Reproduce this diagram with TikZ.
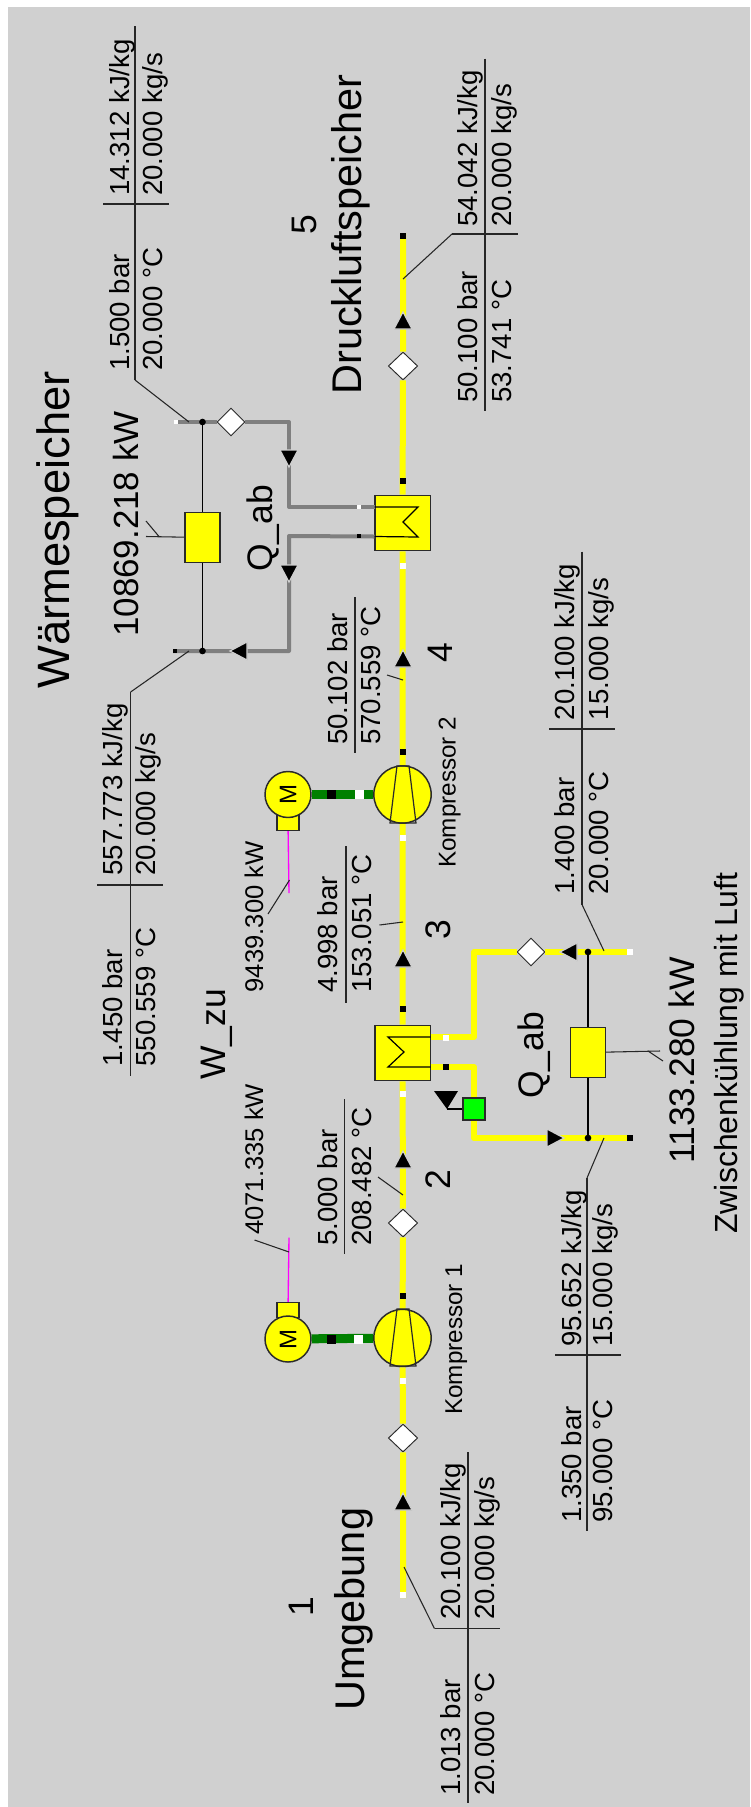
\documentclass[tikz,border=0pt]{standalone}
\usepackage{fontspec}
\setmainfont{Liberation Sans}
\usetikzlibrary{shapes.geometric}
\definecolor{bgc}{HTML}{D0D0D0}
\definecolor{edge}{HTML}{2A2A2A}
\definecolor{pipeg}{HTML}{7F7F7F}
\definecolor{shaftg}{HTML}{008000}
\definecolor{ylw}{HTML}{FFFF00}
\definecolor{mgt}{HTML}{FF00FF}
\definecolor{grn}{HTML}{00FF00}
\newcommand\pxf[1]{\fontsize{#1}{#1}\selectfont}
\tikzset{
  val/.style={rotate=90,anchor=base west,inner sep=0pt,font=\pxf{20.7}},
  kw/.style={rotate=90,anchor=base west,inner sep=0pt,font=\pxf{19.2}},
  comp/.style={rotate=90,anchor=base west,inner sep=0pt,font=\pxf{18.2}},
  big/.style={rotate=90,anchor=base west,inner sep=0pt,font=\pxf{31.1}},
  mid/.style={rotate=90,anchor=base west,inner sep=0pt,font=\pxf{26.6}},
  ypipe/.style={draw=ylw,line width=4.5pt},
  gpipe/.style={draw=pipeg,line width=3pt},
  thin line/.style={draw=black!85,line width=0.8pt},
  sig/.style={draw=black,line width=1pt},
  mag/.style={draw=mgt,line width=1pt},
  shaft/.style={draw=shaftg,line width=6.75pt},
  equip/.style={draw=edge,fill=ylw,line width=1.1pt,inner sep=0pt},
  hx/.style={equip,rectangle,minimum width=41.6pt,minimum height=41.6pt},
  ht/.style={equip,rectangle,minimum width=26pt,minimum height=37.5pt},
  cp/.style={equip,circle,minimum size=43pt},
  mot/.style={equip,circle,minimum size=34.5pt,rotate=90,font=\pxf{18}},
  motb/.style={equip,rectangle,minimum width=16.5pt,minimum height=11pt},
  val dia/.style={diamond,draw=edge,fill=white,line width=0.7pt,inner sep=0pt,aspect=1,minimum width=22pt,minimum height=21pt},
  pb/.style={rectangle,fill=black,inner sep=0pt,minimum size=4.5pt},
  pw/.style={rectangle,fill=white,inner sep=0pt,minimum size=4.5pt},
  pbs/.style={rectangle,fill=black,inner sep=0pt,minimum size=3.2pt},
  pws/.style={rectangle,fill=white,inner sep=0pt,minimum size=3.2pt},
  sb/.style={rectangle,fill=black,inner sep=0pt,minimum width=6.75pt,minimum height=6.75pt},
  sw/.style={rectangle,fill=white,inner sep=0pt,minimum width=6.75pt,minimum height=6.75pt},
  dot/.style={circle,fill=black,inner sep=0pt,minimum size=5pt},
  tip/.style={fill=black,draw=bgc,line width=0.9pt},
}
\newcommand\arU[2]{\path[tip] (#1,#2-1)--(#1-9,#2+16)--(#1+9,#2+16)--cycle;}
\newcommand\arD[2]{\path[tip] (#1,#2+1)--(#1-9,#2-16)--(#1+9,#2-16)--cycle;}
\newcommand\arL[2]{\path[tip] (#1-1,#2)--(#1+16,#2-9)--(#1+16,#2+9)--cycle;}
\newcommand\arR[2]{\path[tip] (#1+1,#2)--(#1-16,#2-9)--(#1-16,#2+9)--cycle;}
% name, vx, ytop, ybot, hy, hx1, hx2
\newcommand\crosstab[7]{%
  \coordinate (#1vt) at (#2,#3);\coordinate (#1vb) at (#2,#4);
  \coordinate (#1hl) at (#6,#5);\coordinate (#1hr) at (#7,#5);
  \draw[thin line] (#1vt)--(#1vb);\draw[thin line] (#1hl)--(#1hr);}
\begin{document}
\begin{tikzpicture}[x=0.75pt,y=-0.75pt]
\useasboundingbox (0,0) rectangle (750,1807);
\fill[white] (0,0) rectangle (750,1807);
\fill[bgc] (8,7) rectangle (750,1807);

% ---- equipment
\node[hx] (hx1) at (402.5,523) {};
\node[hx] (hx2) at (402.5,1053) {};
\node[cp] (c2) at (402.5,794.5) {};
\node[cp] (c1) at (402.5,1338) {};
\node[val dia] (d5) at (403,366) {};
\node[val dia] (d2) at (403,1223) {};
\node[val dia] (d1) at (403,1438) {};
\node[val dia,minimum width=21pt] (dg) at (231,422) {};
\node[val dia,minimum width=21pt] (dy) at (531,952) {};
\node[motb] (mb1) at (288,1310) {};
\node[motb] (mb2) at (288,823) {};
\node[mot] (m1) at (288,1339) {M};
\node[mot] (m2) at (288,794.5) {M};
\node[ht] (ht1) at (202.5,537.5) {};
\node[ht] (ht2) at (588,1052.5) {};
\node[rectangle,draw=edge,fill=grn,line width=1pt,minimum size=16.5pt,inner sep=0pt] (pump) at (474,1109) {};

% ---- junctions and free ends
\coordinate (e5) at (403,233);
\coordinate (e1) at (403,1598);
\coordinate (gaT) at (289,507);
\coordinate (gaC) at (289,422);
\coordinate (gaE) at (175,422);
\coordinate (gbT) at (289,536);
\coordinate (gbC) at (289,651);
\coordinate (gbE) at (173,651);
\coordinate (yaT) at (474,1037);
\coordinate (yaC) at (474,952);
\coordinate (yaE) at (633,952);
\coordinate (ybT) at (474,1067);
\coordinate (ybC) at (474,1138);
\coordinate (ybE) at (633,1138);
\coordinate (hgT) at (202.5,422);
\coordinate (hgB) at (202.5,651);
\coordinate (hyT) at (588,952);
\coordinate (hyB) at (588,1138);
\coordinate (ha) at (374.5,507);
\coordinate (hb) at (374.5,536.5);
\coordinate (hc) at (430.5,1037);
\coordinate (hd) at (430.5,1067);
\coordinate (mt1) at (289,1237.5);
\coordinate (mt2) at (289,893);
\coordinate (trisig) at (447,1109);

% ---- streams
\draw[ypipe] (e5)--(d5)--(hx1)--(c2)--(hx2)--(d2)--(c1)--(d1)--(e1);
\draw[gpipe,line join=round] (ha)--(gaT)--(gaC)--(dg)--(gaE);
\draw[gpipe,line join=round] (hb)--(gbT)--(gbC)--(gbE);
\draw[ypipe,line join=round] (hc)--(yaT)--(yaC)--(dy)--(yaE);
\draw[ypipe,line join=round] (hd)--(ybT)--(pump)--(ybC)--(ybE);
\draw[sig] (hgT)--(ht1);\draw[sig] (ht1)--(hgB);
\draw[sig] (hyT)--(ht2);\draw[sig] (ht2)--(hyB);
\draw[shaft] (m1)--(c1);
\draw[shaft] (m2)--(c2);
\draw[mag] (mb1)--(mt1);
\draw[mag] (mb2)--(mt2);
\draw[sig] (pump)--(trisig);
\fill[black] (434,1091)--(458,1091)--(trisig)--cycle;

% ---- hx and compressor inner lines
\draw[line width=0.9pt,black] (ha)--(418,507)--(403,522)--(418,537)--(hb);
\draw[line width=0.9pt,black] (hc)--(388,1037)--(404,1052)--(388,1067)--(hd);
\draw[line width=0.9pt,edge] (397,1309)--(390,1366)--(416,1366)--(409,1309)--cycle;
\draw[line width=0.9pt,edge] (397,766)--(390,823)--(416,823)--(409,766)--cycle;

% ---- port marks
\node[pb] (q1) at (403,236) {};
\node[pb] (q2) at (403,481) {};
\node[pw] (q3) at (403,566) {};
\node[pb] (q4) at (403,752) {};
\node[pw] (q5) at (403,838) {};
\node[pb] (q6) at (403,1009) {};
\node[pw] (q7) at (403,1094) {};
\node[pb] (q8) at (403,1296) {};
\node[pw] (q9) at (403,1381) {};
\node[pw] (q10) at (403,1595) {};
\node[pw] (q11) at (446,1037.5) {};
\node[pb] (q12) at (446,1067) {};
\node[pw] (q13) at (630,952) {};
\node[pb] (q14) at (630,1138) {};
\node[pws] (q15) at (176,422) {};
\node[pbs] (q16) at (175,651) {};
\node[pws] (q17) at (359,507) {};
\node[pbs] (q18) at (359,536) {};
\node[sb] (q19) at (331,1339) {};
\node[sw] (q20) at (358,1339) {};
\node[sb] (q21) at (331,794.5) {};
\node[sw] (q22) at (359,794.5) {};
\node[dot] (j1) at (hgT) {};
\node[dot] (j2) at (hgB) {};
\node[dot] (j3) at (hyT) {};
\node[dot] (j4) at (hyB) {};

% ---- flow arrows
\arU{403}{313}
\arU{403}{651}
\arU{403}{951}
\arU{403}{1152}
\arU{403}{1494}
\arD{289}{466}
\arD{289}{581}
\arL{231}{651}
\arL{561}{952}
\arR{563}{1138}

% ---- state tables
\crosstab{a}{135}{26}{380}{204}{103}{169}
\coordinate (al) at (189,422);\draw[thin line] (avb)--(al);
\node[val] (a1) at (129,196) {14.312 kJ/kg};
\node[val] (a2) at (162,196) {20.000 kg/s};
\node[val] (a3) at (129,371) {1.500 bar};
\node[val] (a4) at (162,371) {20.000 °C};

\crosstab{b}{485}{58.5}{411}{234}{452}{518}
\coordinate (bl) at (403,279);\draw[thin line] (bhl)--(bl);
\node[val] (b1) at (477.5,227) {54.042 kJ/kg};
\node[val] (b2) at (511,227) {20.000 kg/s};
\node[val] (b3) at (477.5,403) {50.100 bar};
\node[val] (b4) at (511,403) {53.741 °C};

\crosstab{c}{130.6}{692}{1076}{885}{97}{163}
\coordinate (cl) at (189,651);\draw[thin line] (cvt)--(cl);
\node[val] (c1t) at (122,875.6) {557.773 kJ/kg};
\node[val] (c2t) at (155.5,875.6) {20.000 kg/s};
\node[val] (c3t) at (122,1066.6) {1.450 bar};
\node[val] (c4t) at (155.5,1066.6) {550.559 °C};

\crosstab{f}{582}{551.6}{904.5}{729}{549}{615}
\coordinate (fl) at (604,951);\draw[thin line] (fvb)--(fl);
\node[val] (f1) at (574,720.6) {20.100 kJ/kg};
\node[val] (f2) at (608,720.6) {15.000 kg/s};
\node[val] (f3) at (574,894.6) {1.400 bar};
\node[val] (f4) at (608,894.6) {20.000 °C};

\crosstab{g}{587}{1178}{1531}{1355}{555}{621}
\coordinate (gl) at (604,1138);\draw[thin line] (gvt)--(gl);
\node[val] (g1) at (581,1347) {95.652 kJ/kg};
\node[val] (g2) at (612,1347) {15.000 kg/s};
\node[val] (g3) at (581,1523) {1.350 bar};
\node[val] (g4) at (612,1523) {95.000 °C};

\crosstab{h}{468}{1452}{1803}{1628.6}{434.5}{500}
\coordinate (hl) at (404,1567);\draw[thin line] (hhl)--(hl);
\node[val] (h1) at (460,1620) {20.100 kJ/kg};
\node[val] (h2) at (494,1620) {20.000 kg/s};
\node[val] (h3) at (460,1796) {1.013 bar};
\node[val] (h4) at (494,1796) {20.000 °C};

% ---- pressure/temperature only
\coordinate (i1) at (355,597);\coordinate (i2) at (355,753);
\draw[thin line] (i1)--(i2);
\coordinate (i3) at (403,680);\coordinate (i4) at (387,675);
\draw[thin line] (i3)--(i4);
\node[val] (i5) at (347,745) {50.102 bar};
\node[val] (i6) at (380,745) {570.559 °C};

\coordinate (k1) at (346,846);\coordinate (k2) at (346,1002.5);
\draw[thin line] (k1)--(k2);
\coordinate (k3) at (403,922);\coordinate (k4) at (379.5,925);
\draw[thin line] (k3)--(k4);
\node[val] (k5) at (337,993) {4.998 bar};
\node[val] (k6) at (371,993) {153.051 °C};

\coordinate (l1) at (344.5,1099);\coordinate (l2) at (344.5,1254);
\draw[thin line] (l1)--(l2);
\coordinate (l3) at (403,1195);\coordinate (l4) at (378,1177);
\draw[thin line] (l3)--(l4);
\node[val] (l5) at (337,1246) {5.000 bar};
\node[val] (l6) at (371,1246) {208.482 °C};

% ---- power leaders and labels
\coordinate (n1) at (146,536.5);\coordinate (n2) at (159,536.5);\coordinate (n3) at (146,521);
\draw[thin line] (ht1)--(n1);\draw[thin line] (n2)--(n3);
\coordinate (o1) at (660,1051);\coordinate (o2) at (648,1051);\coordinate (o3) at (663,1061);
\draw[thin line] (ht2)--(o1);\draw[thin line] (o2)--(o3);
\coordinate (p1) at (289,1252);\coordinate (p2) at (254.5,1240);
\draw[thin line] (p1)--(p2);
\coordinate (r1) at (289.5,880);\coordinate (r2) at (268,914);
\draw[thin line] (r1)--(r2);

\node[kw] (kw1) at (263,1235) {4071.335 kW};
\node[kw] (kw2) at (263,992.5) {9439.300 kW};
\node[comp] (kp1) at (462,1415) {Kompressor 1};
\node[comp] (kp2) at (455.5,868) {Kompressor 2};

\node[mid,font=\pxf{26.2}] (pw1) at (138,637) {10869.218 kW};
\node[mid] (pw2) at (694,1164) {1133.280 kW};
\node[mid] (qab1) at (272,572) {Q\_ab};
\node[mid] (qab2) at (543,1099) {Q\_ab};
\node[mid] (wzu) at (225,1080) {W\_zu};

\node[big] (umg) at (364.6,1711) {Umgebung};
\node[big] (drk) at (361,395) {Druckluftspeicher};
\node[rotate=90,anchor=base west,inner sep=0pt,font=\pxf{34}] (wsp) at (69.4,689) {Wärmespeicher};
\node[rotate=90,anchor=base west,inner sep=0pt,font=\pxf{24}] (zwi) at (737,1234) {Zwischenkühlung mit Luft};

\node[mid] (n1t) at (313,1617) {1};
\node[mid] (n2t) at (450,1190) {2};
\node[mid] (n3t) at (450,940) {3};
\node[mid] (n4t) at (452,663) {4};
\node[mid] (n5t) at (316,235) {5};
\end{tikzpicture}
\end{document}
